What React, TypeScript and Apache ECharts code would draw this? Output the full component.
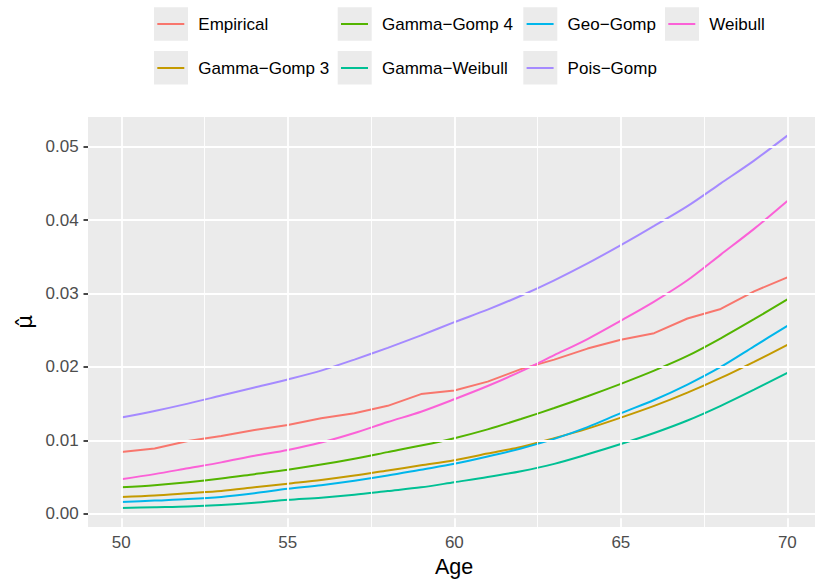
import { useEffect, useRef } from "react";
import * as echarts from "echarts";

// ---- data ----
const AGES = [50, 51, 52, 53, 54, 55, 56, 57, 58, 59, 60, 61, 62, 63, 64, 65, 66, 67, 68, 69, 70];

const EMPIRICAL = [0.0084, 0.0089, 0.0099, 0.0106, 0.0114, 0.0121, 0.0130, 0.0137, 0.0147, 0.0163, 0.0168, 0.0180, 0.0197, 0.0210, 0.0225, 0.0237, 0.0246, 0.0266, 0.0279, 0.0303, 0.0322];
const GAMMA_GOMP_3 = [0.0023, 0.0025, 0.0028, 0.0031, 0.0036, 0.0041, 0.0046, 0.0052, 0.0059, 0.0066, 0.0073, 0.0082, 0.0091, 0.0103, 0.0116, 0.0131, 0.0147, 0.0165, 0.0185, 0.0207, 0.0230];
const GAMMA_GOMP_4 = [0.0036, 0.0039, 0.0043, 0.0048, 0.0054, 0.0060, 0.0067, 0.0075, 0.0084, 0.0093, 0.0103, 0.0115, 0.0129, 0.0144, 0.0160, 0.0177, 0.0195, 0.0215, 0.0239, 0.0265, 0.0292];
const GAMMA_WEIBULL = [0.0008, 0.0009, 0.0010, 0.0012, 0.0015, 0.0019, 0.0022, 0.0026, 0.0031, 0.0036, 0.0043, 0.0050, 0.0058, 0.0068, 0.0081, 0.0095, 0.0110, 0.0127, 0.0147, 0.0169, 0.0192];
const GEO_GOMP = [0.0016, 0.0018, 0.0020, 0.0023, 0.0028, 0.0034, 0.0039, 0.0045, 0.0052, 0.0060, 0.0068, 0.0078, 0.0089, 0.0102, 0.0118, 0.0137, 0.0155, 0.0176, 0.0200, 0.0228, 0.0256];
const POIS_GOMP = [0.0131, 0.0140, 0.0150, 0.0161, 0.0172, 0.0183, 0.0195, 0.0210, 0.0226, 0.0243, 0.0261, 0.0278, 0.0297, 0.0318, 0.0341, 0.0366, 0.0392, 0.0419, 0.0450, 0.0481, 0.0515];
const WEIBULL = [0.0047, 0.0054, 0.0062, 0.0070, 0.0079, 0.0087, 0.0097, 0.0110, 0.0125, 0.0139, 0.0156, 0.0174, 0.0194, 0.0216, 0.0238, 0.0263, 0.0289, 0.0318, 0.0353, 0.0388, 0.0426];

const SERIES_NAMES = ["Empirical", "Gamma\u2212Gomp 3", "Gamma\u2212Gomp 4", "Gamma\u2212Weibull", "Geo\u2212Gomp", "Pois\u2212Gomp", "Weibull"];
const SERIES_COLORS = ["#F8766D", "#C49A00", "#53B400", "#00C094", "#00B6EB", "#A58AFF", "#FB61D7"];
const SERIES_VALUES = [EMPIRICAL, GAMMA_GOMP_3, GAMMA_GOMP_4, GAMMA_WEIBULL, GEO_GOMP, POIS_GOMP, WEIBULL];
const SERIES_SMOOTH = [false, true, true, true, true, true, true];

const LEGEND_COLUMNS = [
  ["Empirical", "Gamma\u2212Gomp 3"],
  ["Gamma\u2212Gomp 4", "Gamma\u2212Weibull"],
  ["Geo\u2212Gomp", "Pois\u2212Gomp"],
  ["Weibull"],
];

const X_MAJOR = [50, 55, 60, 65, 70];
const X_MINOR = [52.5, 57.5, 62.5, 67.5];
const Y_MAJOR = [0, 0.01, 0.02, 0.03, 0.04, 0.05];
const Y_MINOR = [0.005, 0.015, 0.025, 0.035, 0.045];

const X_TITLE = "Age";
const Y_TITLE = "\u03BC\u0302";

const FONT = "'Liberation Sans', Arial, Helvetica, sans-serif";

export default function App() {
  const ref = useRef<HTMLDivElement>(null);

  useEffect(() => {
    if (!ref.current) return;
    const chart = echarts.init(ref.current, null, { renderer: "svg" });

    const legendKeyLeft = [154, 337.7, 523.3, 665];
    const legendRowTop = [7.3, 51];

    const gridLines: any[] = [
      ...X_MINOR.map((v) => ({ xAxis: v, lineStyle: { width: 0.9, color: "#FFFFFF", type: "solid" } })),
      ...Y_MINOR.map((v) => ({ yAxis: v, lineStyle: { width: 0.9, color: "#FFFFFF", type: "solid" } })),
      ...X_MAJOR.map((v) => ({ xAxis: v, lineStyle: { width: 1.8, color: "#FFFFFF", type: "solid" } })),
      ...Y_MAJOR.map((v) => ({ yAxis: v, lineStyle: { width: 1.8, color: "#FFFFFF", type: "solid" } })),
    ];

    const keyRects: any[] = [];
    LEGEND_COLUMNS.forEach((col, i) => {
      col.forEach((_, j) => {
        keyRects.push({
          type: "rect",
          z: 0,
          silent: true,
          shape: { x: legendKeyLeft[i], y: legendRowTop[j], width: 34, height: 33.5 },
          style: { fill: "#EBEBEB" },
        });
      });
    });

    chart.setOption({
      animation: false,
      backgroundColor: "#FFFFFF",
      textStyle: { fontFamily: FONT },
      grid: {
        left: 88,
        top: 117,
        right: 0,
        bottom: 57,
        show: true,
        backgroundColor: "#EBEBEB",
        borderWidth: 0,
        containLabel: false,
        outerBoundsMode: "none",
      },
      xAxis: {
        type: "value",
        min: 49,
        max: 70.83,
        name: X_TITLE,
        nameLocation: "middle",
        nameGap: 29,
        nameMoveOverlap: false,
        nameTextStyle: { fontSize: 21.5, color: "#000000", fontFamily: FONT, padding: [0, 0, 0, 5] },
        axisLine: { show: false },
        axisTick: { show: true, length: 4.5, lineStyle: { color: "#333333", width: 1.8 }, customValues: X_MAJOR },
        axisLabel: { customValues: X_MAJOR, color: "#4D4D4D", fontSize: 17, margin: 7, fontFamily: FONT },
        splitLine: { show: false },
        minorSplitLine: { show: false },
      },
      yAxis: {
        type: "value",
        min: -0.0018,
        max: 0.05404,
        name: Y_TITLE,
        nameLocation: "middle",
        nameRotate: 90,
        nameGap: 53,
        nameMoveOverlap: false,
        nameTextStyle: { fontSize: 21.5, color: "#000000", fontFamily: "'DejaVu Sans', sans-serif" },
        axisLine: { show: false },
        axisTick: { show: true, length: 4.5, lineStyle: { color: "#333333", width: 1.8 }, customValues: Y_MAJOR },
        axisLabel: {
          customValues: Y_MAJOR,
          color: "#4D4D4D",
          fontSize: 17,
          margin: 9.3,
          fontFamily: FONT,
          formatter: (v: number) => v.toFixed(2),
        },
        splitLine: { show: false },
        minorSplitLine: { show: false },
      },
      legend: LEGEND_COLUMNS.map((names, i) => ({
        orient: "vertical",
        left: legendKeyLeft[i] + 3.3,
        top: 14,
        padding: 0,
        itemGap: 24,
        itemWidth: 27,
        itemHeight: 2,
        icon: "rect",
        selectedMode: false,
        z: 5,
        data: names,
        textStyle: { color: "#000000", fontSize: 17, lineHeight: 20, padding: [0, 0, 0, 9], fontFamily: FONT },
      })),
      graphic: keyRects,
      series: [
        {
          name: "__grid__",
          type: "line",
          z: 1,
          silent: true,
          data: [[50, 0]],
          showSymbol: false,
          symbol: "none",
          lineStyle: { opacity: 0 },
          markLine: {
            silent: true,
            symbol: ["none", "none"],
            label: { show: false },
            emphasis: { disabled: true },
            animation: false,
            data: gridLines,
          },
        },
        ...SERIES_NAMES.map((name, k) => ({
          name,
          type: "line",
          z: 3,
          data: AGES.map((a, i) => [a, SERIES_VALUES[k][i]]),
          showSymbol: false,
          symbol: "none",
          smooth: SERIES_SMOOTH[k] ? 0.3 : false,
          color: SERIES_COLORS[k],
          itemStyle: { color: SERIES_COLORS[k] },
          lineStyle: { width: 2, color: SERIES_COLORS[k] },
          emphasis: { disabled: true },
        })),
      ],
    });

    return () => chart.dispose();
  }, []);

  return <div ref={ref} style={{ position: "fixed", left: 0, top: 0, width: 815, height: 584 }} />;
}
